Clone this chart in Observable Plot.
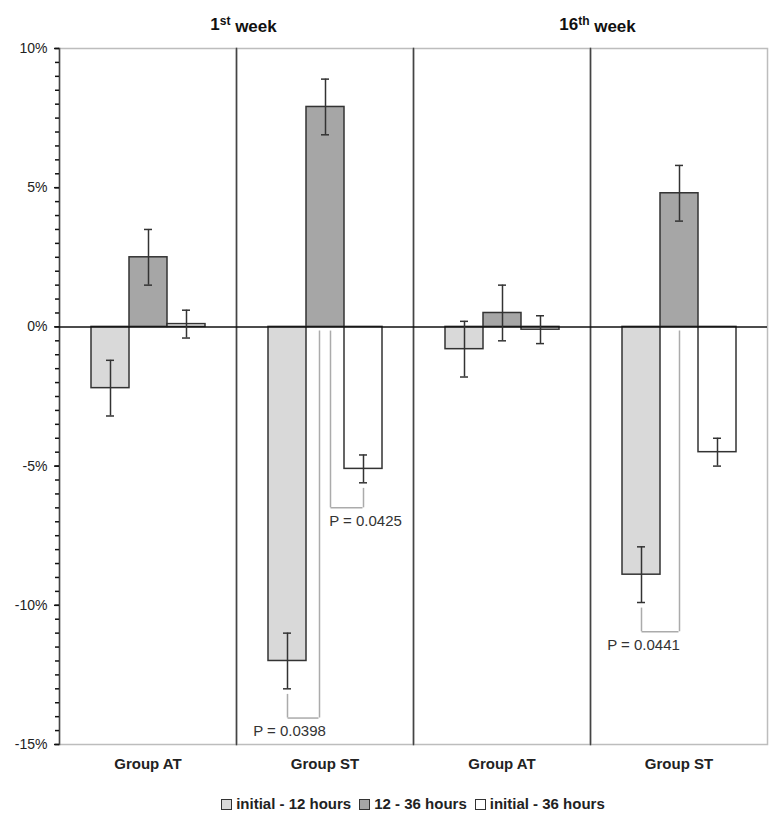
<!DOCTYPE html>
<html><head><meta charset="utf-8">
<script src="https://cdn.jsdelivr.net/npm/d3@7"></script>
<script src="https://cdn.jsdelivr.net/npm/@observablehq/plot@0.6"></script>
<style>
body{margin:0;background:#fff;font-family:"Liberation Sans",Arial,sans-serif;}
#chart svg{display:block}
#legend{box-sizing:border-box;width:780px;padding:0 12px 0 58px;margin-top:10px;line-height:20px;text-align:center;font:bold 15px "Liberation Sans",Arial,sans-serif;color:#222;white-space:nowrap}
#legend .item{display:inline-block;margin:0 4px}
#legend .sw{display:inline-block;width:9px;height:9px;border:1.5px solid #333;margin-right:4px;vertical-align:-1px}
</style></head><body>
<div id="chart"></div>
<div id="legend"></div>
<script>
// ---- data ----
const panels = ["w1-AT", "w1-ST", "w16-AT", "w16-ST"];
const panelGroup = ["Group AT", "Group ST", "Group AT", "Group ST"];
const weekPanels = ["w1-ST", "w16-ST"];
const weekTitles = ["1st week", "16th week"];
const series = ["initial - 12 hours", "12 - 36 hours", "initial - 36 hours"];
const seriesColors = ["#d9d9d9", "#a6a6a6", "#ffffff"];
const meanInit12 = [-2.2, -12.0, -0.8, -8.9];
const mean12to36 = [2.5, 7.9, 0.5, 4.8];
const meanInit36 = [0.1, -5.1, -0.1, -4.5];
const errInit12 = [1.0, 1.0, 1.0, 1.0];
const err12to36 = [1.0, 1.0, 1.0, 1.0];
const errInit36 = [0.5, 0.5, 0.5, 0.5];
const yTicks = [-15, -10, -5, 0, 5, 10];
const yMinorStep = 0.5;
// P-value brackets
const pPanel = ["w1-ST", "w1-ST", "w16-ST"];
const pFrom = ["initial - 12 hours", "initial - 36 hours", "initial - 12 hours"];
const pTo = ["12 - 36 hours", "12 - 36 hours", "12 - 36 hours"];
const pLevel = [-14.05, -6.5, -10.95];
const pLabel = ["P = 0.0398", "P = 0.0425", "P = 0.0441"];

// ---- layout ----
const W = 780, H = 785, mL = 58, mR = 12, mT = 48, mB = 41;
const padOuter = 0.775;
const bandwidth = (W - mL - mR) / panels.length / (series.length + 2 * padOuter);
const half = bandwidth / 2;

// ---- tables ----
const means = [meanInit12, mean12to36, meanInit36];
const errs = [errInit12, err12to36, errInit36];
const rows = [];
panels.forEach((p, i) => series.forEach((s, j) => rows.push({panel: p, series: s, value: means[j][i], err: errs[j][i]})));
const titles = weekPanels.map((p, i) => ({panel: p, text: weekTitles[i]}));
const brackets = pPanel.map((p, i) => {
  const a = rows.find(r => r.panel === p && r.series === pFrom[i]);
  const shared = pPanel.filter(q => q === p).length > 1;
  const aIdx = series.indexOf(pFrom[i]), bIdx = series.indexOf(pTo[i]);
  const off = shared ? (aIdx < bIdx ? -6 : 5) : 0;
  return {panel: p, from: pFrom[i], to: pTo[i], aTop: a.value - a.err - 0.2, bTop: -0.15,
          level: pLevel[i], label: pLabel[i], off, aLeft: aIdx < bIdx};
});
const minorTicks = d3.range(yTicks[0], yTicks[yTicks.length - 1] + 1e-9, yMinorStep);

const bracketColor = "#ababab";
const bracketMarks = brackets.flatMap(b => [
  Plot.ruleX([b], {fx: "panel", x: "from", y1: "aTop", y2: "level", stroke: bracketColor, strokeWidth: 1.5}),
  Plot.ruleX([b], {fx: "panel", x: "to", y1: "bTop", y2: "level", dx: b.off, stroke: bracketColor, strokeWidth: 1.5}),
  Plot.ruleY([b], b.aLeft
    ? {fx: "panel", x1: "from", x2: "to", y: "level", insetLeft: half, insetRight: half - b.off, stroke: bracketColor, strokeWidth: 1.5}
    : {fx: "panel", x1: "to", x2: "from", y: "level", insetLeft: half + b.off, insetRight: half, stroke: bracketColor, strokeWidth: 1.5}),
  Plot.text([b], {fx: "panel", x: "from", y: "level", text: "label", dy: 13, dx: 2, fontSize: 15, fill: "#333", textAnchor: "middle"})
]);

const chart = Plot.plot({
  width: W, height: H,
  marginLeft: mL, marginRight: mR, marginTop: mT, marginBottom: mB,
  style: {fontFamily: '"Liberation Sans", Arial, sans-serif', fontSize: "14px", color: "#222", background: "#fff"},
  fx: {domain: panels, padding: 0, label: null},
  x: {domain: series, paddingInner: 0, paddingOuter: padOuter, axis: null},
  y: {domain: [-15, 10], label: null},
  color: {domain: series, range: seriesColors},
  marks: [
    Plot.frame({stroke: "#bdbdbd", strokeWidth: 1.5}),
    Plot.frame({anchor: "left", stroke: "#444", strokeWidth: 1.5}),
    Plot.axisY({ticks: yTicks, tickFormat: d => d + "%", tickSize: 5, tickPadding: 7, fontSize: 14, stroke: "#111", strokeWidth: 1.5}),
    Plot.axisY({ticks: minorTicks, tickFormat: () => "", tickSize: 4, stroke: "#111", strokeWidth: 1.5}),
    Plot.axisFx({anchor: "bottom", tickFormat: d => panelGroup[panels.indexOf(d)], tickSize: 0, tickPadding: 14, fontSize: 15, fontWeight: "bold", label: null}),
    ...bracketMarks,
    Plot.barY(rows, {fx: "panel", x: "series", y1: 0, y2: "value", fill: "series", stroke: "#333", strokeWidth: 1.5}),
    Plot.ruleY([0], {stroke: "#111", strokeWidth: 1.5}),
    Plot.ruleX(rows, {fx: "panel", x: "series", y1: d => d.value - d.err, y2: d => d.value + d.err, stroke: "#333", strokeWidth: 1.5}),
    Plot.tickY(rows, {fx: "panel", x: "series", y: d => d.value - d.err, insetLeft: 15, insetRight: 15, stroke: "#333", strokeWidth: 1.5}),
    Plot.tickY(rows, {fx: "panel", x: "series", y: d => d.value + d.err, insetLeft: 15, insetRight: 15, stroke: "#333", strokeWidth: 1.5}),
    Plot.text(titles, {fx: "panel", text: "text", frameAnchor: "top-left", dy: -24, dx: 7, textAnchor: "middle", lineAnchor: "middle", fontSize: 17, fontWeight: "bold", fill: "#111"})
  ]
});
document.getElementById("chart").appendChild(chart);

// superscript ordinals in week titles
d3.select(chart).selectAll("text").each(function() {
  const t = this.textContent;
  const m = /^(\d+)(st|nd|rd|th) (.*)$/.exec(t);
  if (!m) return;
  const el = d3.select(this);
  el.text(null);
  el.append("tspan").text(m[1]);
  el.append("tspan").attr("dy", "-0.4em").attr("font-size", "12px").text(m[2]);
  el.append("tspan").attr("dy", "0.4em").text(" " + m[3]);
});

// legend
const legend = d3.select("#legend");
series.forEach((s, i) => {
  const it = legend.append("span").attr("class", "item");
  it.append("span").attr("class", "sw").style("background", seriesColors[i]);
  it.append("span").text(s);
});
</script>
</body></html>
